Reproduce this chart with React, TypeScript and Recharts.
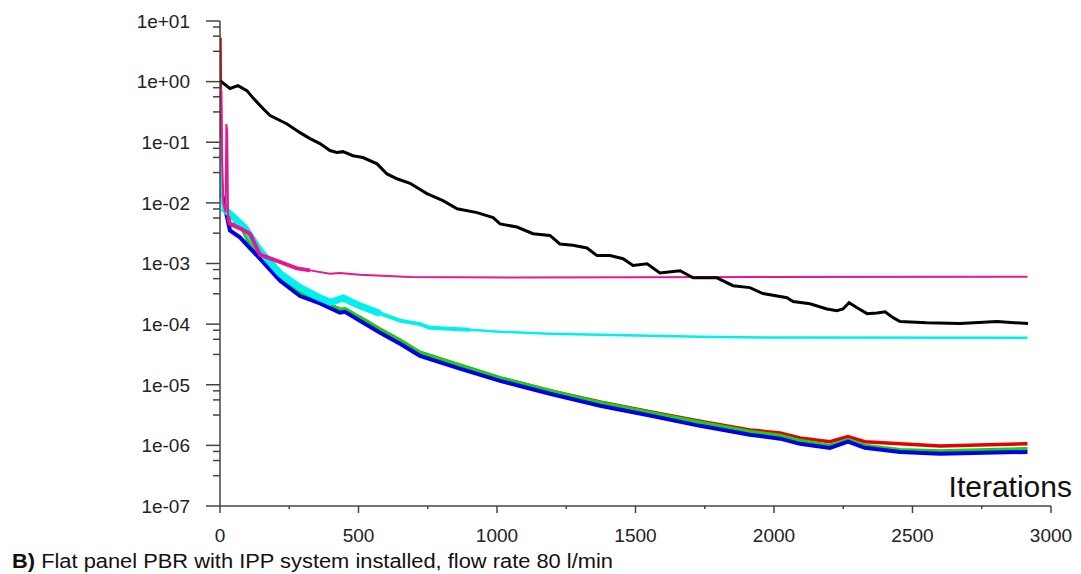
import { LineChart, Line, XAxis, YAxis } from "recharts";

// residual history (iteration, residual)
const blackIt = [0, 36, 65, 97, 119, 155, 181, 242, 289, 325, 361, 397, 422, 444, 480, 516, 567, 603, 639, 686, 747, 805, 856, 928, 986, 1011, 1072, 1130, 1191, 1227, 1274, 1325, 1361, 1408, 1455, 1491, 1542, 1588, 1661, 1708, 1794, 1852, 1913, 1960, 2047, 2069, 2130, 2191, 2227, 2249, 2271, 2300, 2336, 2372, 2401, 2430, 2455, 2552, 2671, 2805, 2917];
const blackRes = [1.04, 0.77, 0.86, 0.71, 0.54, 0.36, 0.275, 0.2, 0.144, 0.115, 0.095, 0.073, 0.068, 0.07, 0.06, 0.056, 0.044, 0.03, 0.025, 0.021, 0.0142, 0.0109, 0.008, 0.0069, 0.0057, 0.0045, 0.004, 0.0031, 0.0029, 0.0021, 0.002, 0.0018, 0.00135, 0.00135, 0.0012, 0.00093, 0.00099, 0.0007, 0.00076, 0.00058, 0.00058, 0.00043, 0.0004, 0.00032, 0.000273, 0.000236, 0.000217, 0.000178, 0.000166, 0.000178, 0.000225, 0.000186, 0.000149, 0.000152, 0.00016, 0.000128, 0.00011, 0.000105, 0.000102, 0.00011, 0.000102];

const magentaIt = [0, 5, 8, 12, 20, 23, 26, 29, 36, 72, 108, 144, 206, 278, 325, 397, 433, 505, 686, 1047, 2915];
const magentaRes = [0.77, 0.7, 0.05, 0.01, 0.007, 0.2, 0.15, 0.006, 0.0045, 0.0038, 0.0031, 0.0014, 0.0011, 0.00083, 0.00077, 0.00068, 0.0007, 0.00065, 0.0006, 0.00059, 0.000605];

const cyanIt = [0, 4, 10, 36, 90, 144, 217, 289, 361, 400, 445, 505, 578, 650, 722, 758, 902, 1011, 1191, 1372, 1733, 2022, 2915];
const cyanRes = [0.12, 0.02, 0.0083, 0.0066, 0.0039, 0.00163, 0.00068, 0.0004, 0.00027, 0.00023, 0.00027, 0.0002, 0.00015, 0.000114, 0.0001, 8.7e-5, 8.1e-5, 7.5e-5, 6.95e-5, 6.7e-5, 6.2e-5, 6.0e-5, 5.97e-5];

const redIt = [0, 3, 7, 36, 60, 80, 108, 144, 217, 289, 361, 433, 505, 578, 650, 722, 866, 1011, 1191, 1372, 1552, 1733, 1913, 2022, 2094, 2202, 2267, 2328, 2455, 2599, 2915];
const redRes = [5.3, 0.03, 0.013, 0.0042, 0.0045, 0.0038, 0.0021, 0.0014, 0.0006, 0.00033, 0.00025, 0.000175, 0.00013, 8.2e-5, 5.4e-5, 3.4e-5, 2.1e-5, 1.3e-5, 8.0e-6, 5.2e-6, 3.6e-6, 2.5e-6, 1.8e-6, 1.6e-6, 1.33e-6, 1.15e-6, 1.4e-6, 1.15e-6, 1.06e-6, 9.8e-7, 1.06e-6];

const greenIt = [0, 7, 36, 60, 80, 108, 144, 217, 289, 361, 433, 451, 505, 578, 650, 722, 866, 1011, 1191, 1372, 1552, 1733, 1913, 2022, 2094, 2202, 2267, 2328, 2455, 2599, 2915];
const greenRes = [0.035, 0.013, 0.0042, 0.0047, 0.0038, 0.0021, 0.0014, 0.0006, 0.00033, 0.00025, 0.000175, 0.00018, 0.00013, 8.2e-5, 5.4e-5, 3.4e-5, 2.1e-5, 1.3e-5, 8.0e-6, 5.1e-6, 3.5e-6, 2.4e-6, 1.7e-6, 1.45e-6, 1.2e-6, 1.0e-6, 1.25e-6, 1.0e-6, 8.5e-7, 8.1e-7, 8.8e-7];

const blueIt = [0, 7, 36, 72, 108, 144, 217, 289, 361, 433, 451, 505, 578, 650, 722, 866, 1011, 1191, 1372, 1552, 1733, 1913, 2022, 2094, 2202, 2267, 2328, 2455, 2599, 2915];
const blueRes = [0.038, 0.0142, 0.0035, 0.0027, 0.0018, 0.0012, 0.00052, 0.00029, 0.00022, 0.000154, 0.00016, 0.000114, 7.2e-5, 4.75e-5, 3.0e-5, 1.84e-5, 1.16e-5, 7.1e-6, 4.5e-6, 3.1e-6, 2.1e-6, 1.5e-6, 1.29e-6, 1.06e-6, 9.1e-7, 1.15e-6, 9.1e-7, 7.8e-7, 7.3e-7, 7.8e-7];

// axes
const xMajor = [0, 500, 1000, 1500, 2000, 2500, 3000];
const xMinor = [250, 750, 1250, 1750, 2250, 2750];
const yMajor = [1e1, 1e0, 1e-1, 1e-2, 1e-3, 1e-4, 1e-5, 1e-6, 1e-7];
const yLabels = ["1e+01", "1e+00", "1e-01", "1e-02", "1e-03", "1e-04", "1e-05", "1e-06", "1e-07"];
const yMinorSteps = [0.1, 0.25, 0.5]; // fraction of a decade below each major

const FONT = "Arial, 'Liberation Sans', sans-serif";
const AXIS = "#444";

const toSeries = (its: number[], vals: number[]) => its.map((it, i) => ({ it, v: vals[i] }));

const yMinor = yMajor.slice(0, -1).flatMap((m) => yMinorSteps.map((s) => m * Math.pow(10, -s)));
const yTicks = [...yMajor, ...yMinor].sort((a, b) => a - b);
const xTicks = [...xMajor, ...xMinor].sort((a, b) => a - b);

function YTick(props: any) {
  const { x, y, payload } = props;
  const idx = yMajor.findIndex((m) => Math.abs(m - payload.value) / m < 1e-6);
  const major = idx >= 0;
  return (
    <g>
      <line x1={x - (major ? 14 : 7)} x2={x} y1={y} y2={y} stroke={AXIS} strokeWidth={1.5} />
      {major && (
        <text x={x - 30} y={y} dy="0.36em" textAnchor="end" fontSize={19} fontFamily={FONT} fill="#222">
          {yLabels[idx]}
        </text>
      )}
    </g>
  );
}

function XTick(props: any) {
  const { x, y, payload } = props;
  const major = xMajor.includes(payload.value);
  return (
    <g>
      <line x1={x} x2={x} y1={y} y2={y + (major ? 7 : 3)} stroke={AXIS} strokeWidth={1.5} />
      {major && (
        <text x={x} y={y + 36} textAnchor="middle" fontSize={19} fontFamily={FONT} fill="#222">
          {payload.value}
        </text>
      )}
    </g>
  );
}

export default function App() {
  const cyan = toSeries(cyanIt, cyanRes);
  const magenta = toSeries(magentaIt, magentaRes);
  return (
    <div style={{ position: "absolute", left: 0, top: 0, width: 1081, height: 574, background: "#fff" }}>
      <LineChart width={1081} height={574} margin={{ top: 21, right: 30, bottom: 28, left: 20 }}>
        <XAxis
          type="number"
          dataKey="it"
          domain={[0, 3000]}
          ticks={xTicks}
          interval={0}
          tickSize={0}
          tickMargin={0}
          height={40}
          tick={<XTick />}
          axisLine={{ stroke: AXIS, strokeWidth: 1.5 }}
          allowDataOverflow
        />
        <YAxis
          type="number"
          dataKey="v"
          scale="log"
          domain={[1e-7, 10]}
          ticks={yTicks}
          interval={0}
          tickSize={0}
          tickMargin={0}
          width={200}
          tick={<YTick />}
          axisLine={{ stroke: AXIS, strokeWidth: 1.5 }}
          allowDataOverflow
        />
        <Line data={toSeries(redIt, redRes)} dataKey="v" stroke="#e60000" strokeWidth={3.5} dot={false} isAnimationActive={false} />
        <Line data={toSeries(greenIt, greenRes)} dataKey="v" stroke="#14d214" strokeWidth={3.5} dot={false} isAnimationActive={false} />
        <Line data={toSeries(blueIt, blueRes)} dataKey="v" stroke="#0000e6" strokeWidth={4} dot={false} isAnimationActive={false} />
        <Line data={cyan.filter((p) => p.it >= 10 && p.it <= 578)} dataKey="v" stroke="#00f0f0" strokeWidth={7} dot={false} isAnimationActive={false} />
        <Line data={cyan.filter((p) => p.it >= 505 && p.it <= 902)} dataKey="v" stroke="#00f0f0" strokeWidth={4} dot={false} isAnimationActive={false} />
        <Line data={cyan} dataKey="v" stroke="#00f0f0" strokeWidth={2.5} dot={false} isAnimationActive={false} />
        <Line data={magenta.filter((p) => p.it >= 29 && p.it <= 325)} dataKey="v" stroke="#e6198c" strokeWidth={4} dot={false} isAnimationActive={false} />
        <Line data={magenta} dataKey="v" stroke="#e6198c" strokeWidth={2} dot={false} isAnimationActive={false} />
        <Line data={toSeries(blackIt, blackRes)} dataKey="v" stroke="#000" strokeWidth={3} dot={false} isAnimationActive={false} />
      </LineChart>
      <svg width={1081} height={574} style={{ position: "absolute", left: 0, top: 0, pointerEvents: "none" }}>
        <text x={1072} y={497} textAnchor="end" fontSize={30} fontFamily={FONT} fill="#111">
          Iterations
        </text>
        <text x={12} y={568} fontSize={20} fontFamily={FONT} fill="#111" textLength={601} lengthAdjust="spacingAndGlyphs">
          <tspan fontWeight="bold">B)</tspan> Flat panel PBR with IPP system installed, flow rate 80 l/min
        </text>
      </svg>
    </div>
  );
}
